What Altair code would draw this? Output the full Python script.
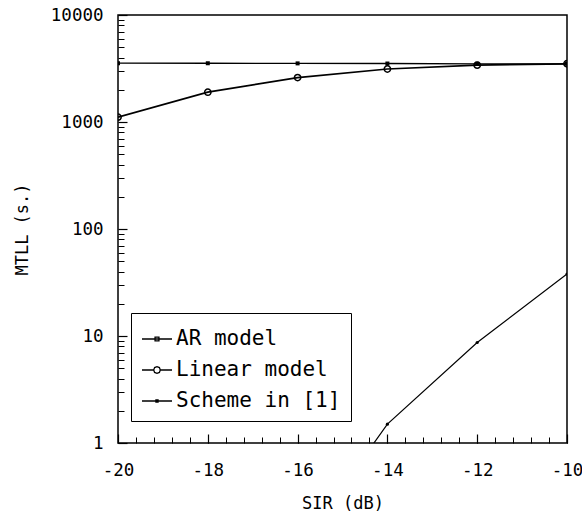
import altair as alt
import pandas as pd

# ---- data ----
sir_ar = [-20, -18, -16, -14, -12, -10]
mtll_ar = [3550, 3540, 3530, 3520, 3500, 3500]

sir_lin = [-20, -18, -16, -14, -12, -10]
mtll_lin = [1110, 1900, 2600, 3130, 3400, 3500]

sir_sch = [-16, -14, -12, -10]
mtll_sch = [0.1, 1.5, 8.7, 38]

names = ["AR model", "Linear model", "Scheme in [1]"]

x_labels = [-20, -18, -16, -14, -12, -10]
x_minor = [round(-20 + 0.4 * i, 1) for i in range(26)]
y_labels = [1, 10, 100, 1000, 10000]
y_minor = [m * 10 ** e for e in range(4) for m in range(2, 10)]

rows = []
for s, v in zip(sir_ar, mtll_ar):
    rows.append({"sir": s, "v": v, "series": names[0]})
for s, v in zip(sir_lin, mtll_lin):
    rows.append({"sir": s, "v": v, "series": names[1]})
for s, v in zip(sir_sch, mtll_sch):
    rows.append({"sir": s, "v": v, "series": names[2]})
df = pd.DataFrame(rows)

W, H = 449, 428
FONT = "DejaVu Sans Mono"

xs = alt.Scale(domain=[-20, -10], nice=False, zero=False)
ys = alt.Scale(type="log", domain=[1, 10000], nice=False)

base = alt.Chart(df)

paths = [
    "M-1,0L1,0M-0.13,-0.13L0.13,-0.13L0.13,0.13L-0.13,0.13Z",
    "M-1,0L-0.22,0M0.22,0L0.16,0.16L0,0.22L-0.16,0.16L-0.22,0L-0.16,-0.16L0,-0.22L0.16,-0.16L0.22,0L1,0",
    "M-1,0L1,0M-0.07,-0.07L0.07,-0.07L0.07,0.07L-0.07,0.07Z",
]

# legend carrier (first layer) + labelled axes
legend_layer = base.mark_point(
    filled=False, color="black", strokeWidth=1.3, opacity=0).encode(
    x=alt.X("sir:Q", scale=xs, axis=alt.Axis(
        orient="bottom", values=x_labels, ticks=False, tickSize=0, domain=False,
        grid=False, labelExpr="'' + datum.value", labelPadding=18, labelFlush=False,
        title="SIR (dB)", titlePadding=17)),
    y=alt.Y("v:Q", scale=ys, axis=alt.Axis(
        orient="left", values=y_labels, ticks=False, tickSize=0, domain=False,
        grid=False, labelExpr="'' + datum.value", labelPadding=15, labelFlush=False,
        title="MTLL (s.)", titlePadding=19)),
    shape=alt.Shape("series:N", scale=alt.Scale(domain=names, range=paths), legend=alt.Legend(
        title=None, orient="none", legendX=13, legendY=298, strokeColor="black",
        padding=10, rowPadding=5, labelOffset=3,
        labelFont=FONT, labelFontSize=21, labelColor="black", labelLimit=400,
        symbolSize=900, symbolStrokeWidth=1.3, symbolStrokeColor="black",
        symbolOpacity=1)),
)

def line_layer(name, width):
    return base.transform_filter(alt.datum.series == name).mark_line(
        color="black", clip=True, strokeWidth=width).encode(
        x=alt.X("sir:Q", scale=xs, axis=None),
        y=alt.Y("v:Q", scale=ys, axis=None),
    )

line_ar = line_layer(names[0], 1.3)
line_lin = line_layer(names[1], 1.7)
line_sch = line_layer(names[2], 1.2)

# AR points, carry minor inward ticks
pts_ar = base.transform_filter(alt.datum.series == names[0]).mark_point(
    shape="square", filled=True, color="black", size=16, opacity=1, clip=True).encode(
    x=alt.X("sir:Q", scale=xs, axis=alt.Axis(
        orient="top", offset=-H, values=x_minor, labels=False, domain=False, grid=False,
        tickSize=6, tickColor="black", tickWidth=1, title=None)),
    y=alt.Y("v:Q", scale=ys, axis=alt.Axis(
        orient="right", offset=-W, values=y_minor, labels=False, domain=False, grid=False,
        tickSize=6, tickColor="black", tickWidth=1, title=None)),
)

# Linear points, carry major inward ticks
pts_lin = base.transform_filter(alt.datum.series == names[1]).mark_point(
    shape="circle", filled=False, color="black", size=40, strokeWidth=1.5, opacity=1, clip=True).encode(
    x=alt.X("sir:Q", scale=xs, axis=alt.Axis(
        orient="top", offset=-H, values=x_labels, labels=False, domain=False, grid=False,
        tickSize=9, tickColor="black", tickWidth=1.2, title=None)),
    y=alt.Y("v:Q", scale=ys, axis=alt.Axis(
        orient="right", offset=-W, values=y_labels, labels=False, domain=False, grid=False,
        tickSize=9, tickColor="black", tickWidth=1.2, title=None)),
)

pts_sch = base.transform_filter(alt.datum.series == names[2]).mark_point(
    shape="circle", filled=True, color="black", size=10, opacity=1, clip=True).encode(
    x=alt.X("sir:Q", scale=xs, axis=None),
    y=alt.Y("v:Q", scale=ys, axis=None),
)

chart = alt.layer(legend_layer, line_ar, line_lin, line_sch, pts_ar, pts_lin, pts_sch).resolve_axis(
    x="independent", y="independent"
).properties(
    width=W, height=H,
    autosize=alt.AutoSizeParams(type="none"),
    padding={"left": 118, "top": 15, "right": 15, "bottom": 73},
    background="white",
).configure_view(
    stroke="black", strokeWidth=1.5
).configure_axis(
    labelFont=FONT, labelFontSize=17.5, labelColor="black",
    titleFont=FONT, titleFontSize=17, titleFontWeight="normal", titleColor="black",
)

chart.save("out.html", embed_options={"renderer": "svg", "actions": False})
